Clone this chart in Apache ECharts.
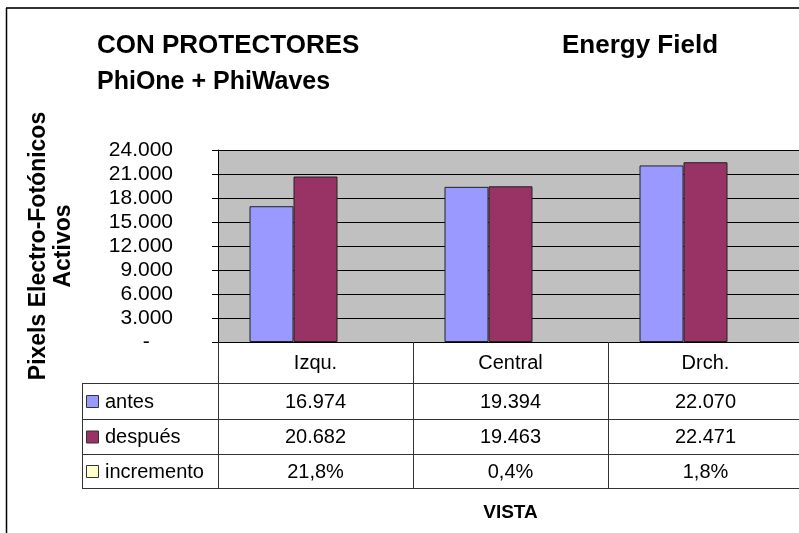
<!DOCTYPE html>
<html>
<head>
<meta charset="utf-8">
<script src="https://cdn.jsdelivr.net/npm/echarts@6/dist/echarts.min.js"></script>
<style>
html, body { margin: 0; padding: 0; background: #fff; }
#chart { width: 799px; height: 533px; }
</style>
</head>
<body>
<div id="chart"></div>
<script>
// datos
const categories = ['Izqu.', 'Central', 'Drch.'];
const antes = [16974, 19394, 22070];
const despues = [20682, 19463, 22471];
const incremento = [0.218, 0.004, 0.018];
const seriesNames = ['antes', 'después', 'incremento'];
const yMin = 0, yMax = 24000, yStep = 3000;

const colors = ['#9999ff', '#993366', '#ffffcc'];
const font = 'Liberation Sans, Arial, sans-serif';

function miles(v) {
  if (v === 0) return '-    ';
  return String(Math.round(v)).replace(/\B(?=(\d{3})+(?!\d))/g, '.');
}
function pct(v) {
  return (v * 100).toFixed(1).replace('.', ',') + '%';
}

var myChart = echarts.init(document.getElementById('chart'), null, { renderer: 'canvas' });

var option = {
  animation: false,
  backgroundColor: '#fff',
  title: [
    { text: 'CON PROTECTORES', left: 97, top: 33, padding: 0,
      textStyle: { fontFamily: font, fontWeight: 'bold', fontSize: 26, color: '#000' } },
    { text: 'PhiOne + PhiWaves', left: 97, top: 70, padding: 0,
      textStyle: { fontFamily: font, fontWeight: 'bold', fontSize: 25, color: '#000' } },
    { text: 'Energy Field', left: 562, top: 33, padding: 0,
      textStyle: { fontFamily: font, fontWeight: 'bold', fontSize: 26, color: '#000' } }
  ],
  grid: {
    left: 218, top: 150, width: 585, height: 192,
    outerBoundsMode: 'none',
    show: true, backgroundColor: '#c0c0c0', borderWidth: 0
  },
  xAxis: {
    type: 'category',
    data: categories,
    axisLine: { show: true, lineStyle: { color: '#000', width: 1 } },
    axisTick: { show: true, length: 146, lineStyle: { color: '#333' } },
    axisLabel: { fontFamily: font, fontSize: 20, color: '#000', margin: 11 },
    name: 'VISTA',
    nameLocation: 'middle',
    nameGap: 161,
    nameTextStyle: { fontFamily: font, fontWeight: 'bold', fontSize: 19, color: '#000' }
  },
  yAxis: {
    type: 'value',
    min: yMin, max: yMax, interval: yStep,
    name: 'Pixels Electro-Fotónicos\nActivos',
    nameLocation: 'middle',
    nameRotate: 90,
    nameGap: 142,
    nameTextStyle: { fontFamily: font, fontWeight: 'bold', fontSize: 23, color: '#000', lineHeight: 25, align: 'center' },
    axisLine: { show: true, lineStyle: { color: '#000' } },
    axisTick: { show: true, length: 6, lineStyle: { color: '#000' } },
    axisLabel: { fontFamily: font, fontSize: 21, color: '#000', margin: 45, formatter: miles },
    splitLine: { show: true, lineStyle: { color: '#000', width: 1 } }
  },
  series: [
    { name: seriesNames[0], type: 'bar', data: antes, barWidth: 44, barGap: '0%',
      itemStyle: { color: colors[0], borderColor: '#222', borderWidth: 1 } },
    { name: seriesNames[1], type: 'bar', data: despues, barWidth: 44, barGap: '0%',
      itemStyle: { color: colors[1], borderColor: '#222', borderWidth: 1 } },
    { name: seriesNames[2], type: 'bar', data: incremento, barWidth: 44, barGap: '0%',
      itemStyle: { color: colors[2], borderWidth: 0 } }
  ]
};
option && myChart.setOption(option);

// tabla de datos bajo el eje
const rowText = [antes.map(miles), despues.map(miles), incremento.map(pct)];
const rowLines = [383, 419, 454, 488];
const tableLeft = 82, tableRight = 803;
const g = [];

// marco exterior
g.push({ type: 'line', shape: { x1: 6, y1: 8, x2: 799, y2: 8 }, style: { stroke: '#333', lineWidth: 2 } });
g.push({ type: 'line', shape: { x1: 6.5, y1: 8, x2: 6.5, y2: 533 }, style: { stroke: '#000', lineWidth: 1.5 } });

rowLines.forEach(function (y) {
  g.push({ type: 'line', shape: { x1: tableLeft, y1: y + 0.5, x2: tableRight, y2: y + 0.5 }, style: { stroke: '#333', lineWidth: 1 } });
});
g.push({ type: 'line', shape: { x1: tableLeft + 0.5, y1: rowLines[0], x2: tableLeft + 0.5, y2: rowLines[3] }, style: { stroke: '#333', lineWidth: 1 } });

for (let r = 0; r < 3; r++) {
  const yc = (rowLines[r] + rowLines[r + 1]) / 2 + 1;
  g.push({ type: 'rect', shape: { x: 86.5, y: yc - 6.5, width: 12, height: 12 },
    style: { fill: colors[r], stroke: '#333', lineWidth: 1 } });
  g.push({ type: 'text', x: 105, y: yc, style: { text: seriesNames[r], fontFamily: font, fontSize: 20, fill: '#000', align: 'left', verticalAlign: 'middle' } });
  for (let c = 0; c < categories.length; c++) {
    const x = myChart.convertToPixel({ xAxisIndex: 0 }, c);
    g.push({ type: 'text', x: x, y: yc, style: { text: rowText[r][c], fontFamily: font, fontSize: 20, fill: '#000', align: 'center', verticalAlign: 'middle' } });
  }
}
myChart.setOption({ graphic: g });
</script>
</body>
</html>
